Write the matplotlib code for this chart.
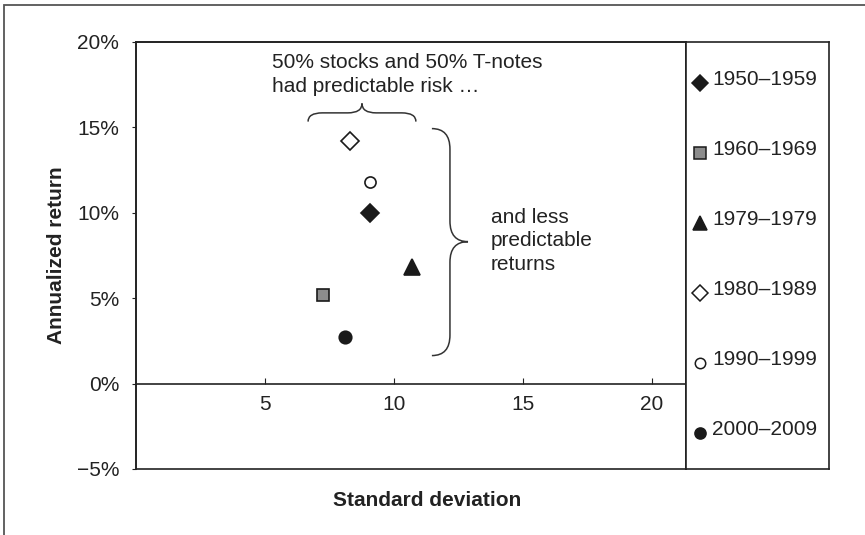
import matplotlib.pyplot as plt
import numpy as np
from matplotlib.path import Path
from matplotlib.patches import PathPatch, Rectangle
from matplotlib.ticker import PercentFormatter

plt.rcParams['font.family'] = ['Liberation Sans', 'DejaVu Sans']

# Данные: стандартное отклонение и годовая доходность (%) по десятилетиям
periods = ['1950\u20131959', '1960\u20131969', '1979\u20131979',
           '1980\u20131989', '1990\u20131999', '2000\u20132009']
std_dev = [9.07, 7.24, 10.69, 8.29, 9.07, 8.10]
ann_return = [10.0, 5.2, 6.8, 14.2, 11.8, 2.7]

# стили маркеров
markers = ['D', 's', '^', 'D', 'o', 'o']
facecolors = ['#1a1a1a', '#8c8c8c', '#1a1a1a', 'white', 'white', '#1a1a1a']
sizes = [9, 9, 11, 9, 8, 9]
legend_sizes = [8.5, 8, 10, 8.5, 7.5, 8]

W, H = 865, 535
fig = plt.figure(figsize=(W / 100, H / 100), dpi=100)

def px_box(x0, y0, x1, y1):
    return [x0 / W, 1 - y1 / H, (x1 - x0) / W, (y1 - y0) / H]

# внешняя рамка
fig.patches.append(Rectangle((4 / W, -0.1), 1.2, 1 - 5 / H + 0.1, transform=fig.transFigure,
                             fill=False, edgecolor='#555555', lw=1.3))

ax = fig.add_axes(px_box(136, 42, 686, 469))
ax.set_xlim(0, 21.32)
ax.set_ylim(-5, 20)

for x, y, m, fc, s in zip(std_dev, ann_return, markers, facecolors, sizes):
    ax.plot(x, y, marker=m, ms=s, mfc=fc, mec='#1a1a1a', mew=1.2, ls='none')

# оси
ax.spines['bottom'].set_position(('data', 0))
for sp in ax.spines.values():
    sp.set_color('#222222')
    sp.set_linewidth(1.2)
ax.add_patch(Rectangle((0, 0), 1, 1, transform=ax.transAxes, fill=False,
                       edgecolor='#222222', lw=1.2, clip_on=False))
ax.set_xticks([5, 10, 15, 20])
ax.set_yticks([-5, 0, 5, 10, 15, 20])
ax.yaxis.set_major_formatter(PercentFormatter(decimals=0))
ax.tick_params(axis='x', direction='in', length=4, pad=8, labelsize=15, colors='#222222')
ax.tick_params(axis='y', direction='out', length=3, pad=9, labelsize=15, colors='#222222')

fig.text(57 / W, 1 - 255 / H, 'Annualized return', rotation=90, fontsize=15,
         fontweight='bold', ha='center', va='center', color='#222222')
fig.text(427 / W, 1 - 500 / H, 'Standard deviation', fontsize=15,
         fontweight='bold', ha='center', va='center', color='#222222')

# фигурные скобки
def brace_h(x0, x1, yend, ybody, ytip, xtip, r):
    verts = [(x0, yend), (x0, ybody), (x0 + r, ybody),
             (xtip - r, ybody), (xtip, ybody), (xtip, ytip),
             (xtip, ybody), (xtip + r, ybody),
             (x1 - r, ybody), (x1, ybody), (x1, yend)]
    codes = [Path.MOVETO, Path.CURVE3, Path.CURVE3,
             Path.LINETO, Path.CURVE3, Path.CURVE3,
             Path.CURVE3, Path.CURVE3,
             Path.LINETO, Path.CURVE3, Path.CURVE3]
    return Path(verts, codes)

def brace_v(y0, y1, xend, xbody, xtip, ytip, r):
    verts = [(xend, y0), (xbody, y0), (xbody, y0 - r),
             (xbody, ytip + r), (xbody, ytip), (xtip, ytip),
             (xbody, ytip), (xbody, ytip - r),
             (xbody, y1 + r), (xbody, y1), (xend, y1)]
    codes = [Path.MOVETO, Path.CURVE3, Path.CURVE3,
             Path.LINETO, Path.CURVE3, Path.CURVE3,
             Path.CURVE3, Path.CURVE3,
             Path.LINETO, Path.CURVE3, Path.CURVE3]
    return Path(verts, codes)

ax.add_patch(PathPatch(brace_h(6.67, 10.85, 15.34, 15.85, 16.4, 8.76, 0.55),
                       fill=False, edgecolor='#333333', lw=1.1, clip_on=False))
ax.add_patch(PathPatch(brace_v(14.93, 1.64, 11.47, 12.17, 12.87, 8.31, 1.2),
                       fill=False, edgecolor='#333333', lw=1.1, clip_on=False))

ax.text(5.27, 18.1, '50% stocks and 50% T-notes\nhad predictable risk \u2026',
        fontsize=15, ha='left', va='center', color='#222222', linespacing=1.3)
ax.text(13.76, 8.35, 'and less\npredictable\nreturns',
        fontsize=15, ha='left', va='center', color='#222222', linespacing=1.3)

# легенда в отдельной рамке
lax = fig.add_axes(px_box(686, 42, 829, 469))
lax.set_xlim(0, 1)
lax.set_ylim(5.51, -0.586)
lax.set_xticks([])
lax.set_yticks([])
for sp in lax.spines.values():
    sp.set_color('#222222')
    sp.set_linewidth(1.2)
for i, (lab, m, fc, s) in enumerate(zip(periods, markers, facecolors, legend_sizes)):
    lax.plot(0.095, i, marker=m, ms=s, mfc=fc, mec='#1a1a1a', mew=1.1, ls='none')
    lax.text(0.185, i - 0.05, lab, fontsize=15, ha='left', va='center', color='#222222')

fig.savefig('out.png', dpi=100)
plt.close()
